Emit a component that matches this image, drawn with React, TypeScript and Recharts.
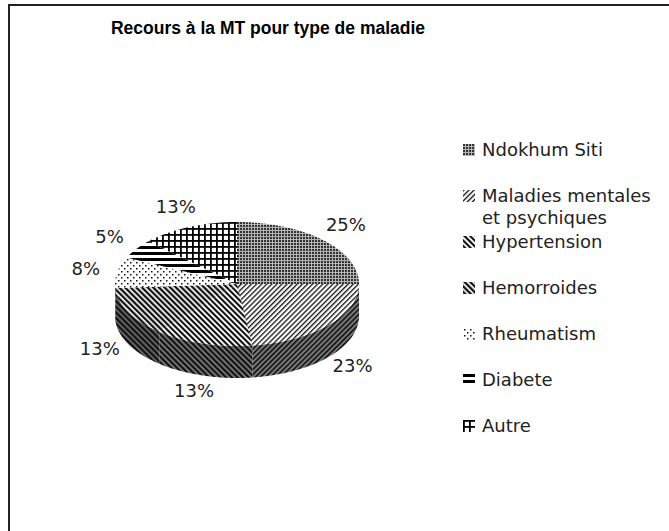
import { PieChart, Pie, Cell, Legend } from "recharts";

const categories = [
  "Ndokhum Siti",
  "Maladies mentales et psychiques",
  "Hypertension",
  "Hemorroides",
  "Rheumatism",
  "Diabete",
  "Autre",
];
const shares = [25, 23, 13, 13, 8, 5, 13];

const data = categories.map((name, i) => ({ name, value: shares[i] }));

// pattern fills, top face and side wall
const topFills = ["url(#pNdo)", "url(#pMal)", "url(#pHyp)", "url(#pHem)", "url(#pRhe)", "url(#pDia)", "url(#pAut)"];
const sideFills = ["url(#sNdo)", "url(#sMal)", "url(#sHyp)", "url(#sHem)", "url(#sRhe)", "url(#sDia)", "url(#sAut)"];

const CX = 237;
const CY = 284;
const RX = 122;
const RATIO = 0.508;
const DEPTH = 32;
const RAD = Math.PI / 180;

const arcPoints = (cx: number, cy: number, rx: number, ry: number, a: number, b: number) => {
  const n = Math.max(2, Math.ceil(Math.abs(b - a) / 1.5) + 1);
  const pts: string[] = [];
  for (let i = 0; i < n; i++) {
    const deg = a + ((b - a) * i) / (n - 1);
    pts.push(`${cx + rx * Math.cos(deg * RAD)},${cy - ry * Math.sin(deg * RAD)}`);
  }
  return pts;
};

const TopSlice = (props: any) => {
  const { cx, cy, outerRadius, startAngle, endAngle, fill } = props;
  const pts = arcPoints(cx, cy, outerRadius, outerRadius * RATIO, startAngle, endAngle);
  return <path d={`M${cx},${cy} L${pts.join(" L")} Z`} fill={fill} stroke="none" />;
};

const SideSlice = (props: any) => {
  const { cx, cy, outerRadius, startAngle, endAngle, fill } = props;
  const a = Math.max(Math.min(startAngle, endAngle), -180);
  const b = Math.min(Math.max(startAngle, endAngle), 0);
  if (b <= a) return <g />;
  const ry = outerRadius * RATIO;
  const top = arcPoints(cx, cy, outerRadius, ry, a, b);
  const bottom = arcPoints(cx, cy + DEPTH, outerRadius, ry, b, a);
  return <path d={`M${top.join(" L")} L${bottom.join(" L")} Z`} fill={fill} stroke="none" />;
};

const renderLabel = (props: any) => {
  const { cx, cy, midAngle, outerRadius, percent } = props;
  const s = Math.sin(midAngle * RAD);
  const x = cx + (outerRadius + 32) * Math.cos(midAngle * RAD);
  let y = cy - (outerRadius * RATIO + 22) * s;
  if (s < 0) y += 26;
  return (
    <text
      x={x}
      y={y}
      textAnchor="middle"
      dominantBaseline="central"
      fontFamily="DejaVu Sans"
      fontSize={18}
      fill="#222"
    >
      {`${Math.round(percent * 100)}%`}
    </text>
  );
};

const renderLegend = () => (
  <div>
    {categories.map((name, idx) => (
      <div key={name} style={{ height: 46, display: "flex", alignItems: "flex-start" }}>
        <svg width={12} height={12} style={{ marginTop: 5, marginRight: 7, flexShrink: 0 }}>
          <rect width={12} height={12} fill={topFills[idx]} />
        </svg>
        <span style={{ lineHeight: "22px", fontSize: 18, color: "#222", width: 180 }}>{name}</span>
      </div>
    ))}
  </div>
);

const Patterns = () => (
  <svg width={0} height={0} style={{ position: "absolute" }}>
    <defs>
      <pattern id="pNdo" width={3} height={3} patternUnits="userSpaceOnUse">
        <rect width={3} height={3} fill="#b4b4b4" />
        <rect width={2} height={2} fill="#333" />
      </pattern>
      <pattern id="sNdo" width={3} height={3} patternUnits="userSpaceOnUse">
        <rect width={3} height={3} fill="#777" />
        <rect width={2} height={2} fill="#222" />
      </pattern>
      <pattern id="pMal" width={3.6} height={3.6} patternUnits="userSpaceOnUse" patternTransform="rotate(45)">
        <rect width={3.6} height={3.6} fill="#fff" />
        <rect width={1.3} height={3.6} fill="#111" />
      </pattern>
      <pattern id="sMal" width={3.6} height={3.6} patternUnits="userSpaceOnUse" patternTransform="rotate(45)">
        <rect width={3.6} height={3.6} fill="#7a7a7a" />
        <rect width={1.6} height={3.6} fill="#111" />
      </pattern>
      <pattern id="pHyp" width={4} height={4} patternUnits="userSpaceOnUse" patternTransform="rotate(-45)">
        <rect width={4} height={4} fill="#fff" />
        <rect width={2.1} height={4} fill="#111" />
      </pattern>
      <pattern id="sHyp" width={4} height={4} patternUnits="userSpaceOnUse" patternTransform="rotate(-45)">
        <rect width={4} height={4} fill="#777" />
        <rect width={2.1} height={4} fill="#111" />
      </pattern>
      <pattern id="pHem" width={4} height={4} patternUnits="userSpaceOnUse" patternTransform="rotate(-45)">
        <rect width={4} height={4} fill="#fff" />
        <rect width={2.3} height={4} fill="#111" />
      </pattern>
      <pattern id="sHem" width={4} height={4} patternUnits="userSpaceOnUse" patternTransform="rotate(-45)">
        <rect width={4} height={4} fill="#6e6e6e" />
        <rect width={2.3} height={4} fill="#111" />
      </pattern>
      <pattern id="pRhe" width={6} height={6} patternUnits="userSpaceOnUse">
        <rect width={6} height={6} fill="#fff" />
        <rect x={1} y={1} width={1.5} height={1.5} fill="#111" />
        <rect x={4} y={4} width={1.5} height={1.5} fill="#111" />
      </pattern>
      <pattern id="sRhe" width={6} height={6} patternUnits="userSpaceOnUse">
        <rect width={6} height={6} fill="#888" />
        <rect x={1} y={1} width={1.5} height={1.5} fill="#111" />
        <rect x={4} y={4} width={1.5} height={1.5} fill="#111" />
      </pattern>
      <pattern id="pDia" width={6} height={6} patternUnits="userSpaceOnUse">
        <rect width={6} height={6} fill="#fff" />
        <rect width={6} height={3} fill="#000" />
      </pattern>
      <pattern id="sDia" width={6} height={6} patternUnits="userSpaceOnUse">
        <rect width={6} height={6} fill="#888" />
        <rect width={6} height={3} fill="#000" />
      </pattern>
      <pattern id="pAut" width={6} height={6} patternUnits="userSpaceOnUse">
        <rect width={6} height={6} fill="#fff" />
        <rect width={1.8} height={6} fill="#000" />
        <rect width={6} height={1.8} fill="#000" />
      </pattern>
      <pattern id="sAut" width={6} height={6} patternUnits="userSpaceOnUse">
        <rect width={6} height={6} fill="#888" />
        <rect width={1.8} height={6} fill="#000" />
        <rect width={6} height={1.8} fill="#000" />
      </pattern>
    </defs>
  </svg>
);

export default function App() {
  return (
    <div style={{ position: "absolute", left: 0, top: 0, width: 669, height: 531, background: "#fff" }}>
      <Patterns />
      <div
        style={{
          position: "absolute",
          left: 8,
          top: 4,
          width: 661,
          height: 527,
          boxSizing: "border-box",
          borderTop: "2px solid #222",
          borderLeft: "2px solid #222",
        }}
      />
      <div
        style={{
          position: "absolute",
          left: 0,
          width: 536,
          top: 17,
          textAlign: "center",
          fontFamily: "Liberation Sans",
          fontWeight: "bold",
          fontSize: 17.5,
          lineHeight: "22px",
          color: "#000",
        }}
      >
        Recours à la MT pour type de maladie
      </div>
      <div style={{ position: "absolute", left: 0, top: 0 }}>
        <PieChart width={669} height={531} margin={{ top: 0, right: 0, bottom: 0, left: 0 }}>
          <Pie
            data={data}
            dataKey="value"
            nameKey="name"
            cx={CX}
            cy={CY}
            outerRadius={RX}
            startAngle={90}
            endAngle={-270}
            stroke="none"
            legendType="none"
            shape={SideSlice}
            isAnimationActive={false}
          >
            {data.map((d, i) => (
              <Cell key={`side-${d.name}`} fill={sideFills[i]} />
            ))}
          </Pie>
          <Pie
            data={data}
            dataKey="value"
            nameKey="name"
            cx={CX}
            cy={CY}
            outerRadius={RX}
            startAngle={90}
            endAngle={-270}
            stroke="none"
            shape={TopSlice}
            label={renderLabel}
            labelLine={false}
            isAnimationActive={false}
          >
            {data.map((d, i) => (
              <Cell key={`top-${d.name}`} fill={topFills[i]} />
            ))}
          </Pie>
          <Legend
            layout="vertical"
            align="right"
            verticalAlign="top"
            content={renderLegend}
            wrapperStyle={{ position: "absolute", left: 463, top: 139, width: 200, fontFamily: "DejaVu Sans" }}
          />
        </PieChart>
      </div>
    </div>
  );
}
